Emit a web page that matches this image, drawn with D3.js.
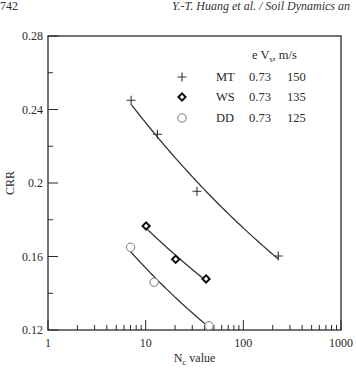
<!DOCTYPE html>
<html><head><meta charset="utf-8">
<script src="https://cdn.jsdelivr.net/npm/d3@7"></script>
<style>
html,body{margin:0;padding:0;background:#fff;}
svg{display:block;font-family:"Liberation Serif","Times New Roman",serif;}
</style></head>
<body><svg id="c" width="356" height="368"></svg>
<script>
// Data
const seriesNames = ["MT", "WS", "DD"];
const eValues = ["0.73", "0.73", "0.73"];
const vsValues = ["150", "135", "125"];
const mtN = [7.1, 13.2, 33.5, 228];
const mtCRR = [0.245, 0.2265, 0.1955, 0.1603];
const wsN = [10.1, 20.3, 41.5];
const wsCRR = [0.1766, 0.1585, 0.1478];
const ddN = [7.0, 12.2, 44.5];
const ddCRR = [0.165, 0.146, 0.1223];
const xTickLabels = ["1", "10", "100", "1000"];
const yTickLabels = ["0.12", "0.16", "0.2", "0.24", "0.28"];

const svg = d3.select("#c");
const L = 48, R = 341, T = 36, B = 330;
const x = d3.scaleLog().domain([1, 1000]).range([L, R]);
const y = d3.scaleLinear().domain([0.12, 0.28]).range([B, T]);
const ink = "#2a2a2a";

// page header
svg.append("text").attr("x", 0).attr("y", 10).attr("font-size", 12).attr("fill", "#333").text("742");
svg.append("text").attr("x", 172).attr("y", 10).attr("font-size", 12).attr("font-style", "italic").attr("fill", "#333")
  .text("Y.-T. Huang et al. / Soil Dynamics an");

// frame
svg.append("rect").attr("x", L).attr("y", T).attr("width", R - L).attr("height", B - T)
  .attr("fill", "none").attr("stroke", ink).attr("stroke-width", 1.3);

// x ticks (inward)
const xMajor = [1, 10, 100, 1000];
const xMinor = [];
[1, 10, 100].forEach(d => { for (let k = 2; k <= 9; k++) xMinor.push(d * k); });
const gx = svg.append("g");
gx.selectAll("line.mn").data(xMinor).enter().append("line")
  .attr("x1", d => x(d)).attr("x2", d => x(d)).attr("y1", B).attr("y2", B - 5)
  .attr("stroke", ink).attr("stroke-width", 1);
gx.selectAll("line.mj").data(xMajor).enter().append("line")
  .attr("x1", d => x(d)).attr("x2", d => x(d)).attr("y1", B).attr("y2", B - 10)
  .attr("stroke", ink).attr("stroke-width", 1);
gx.selectAll("text").data(xMajor).enter().append("text")
  .attr("x", d => x(d)).attr("y", B + 17).attr("text-anchor", "middle")
  .attr("font-size", 12).attr("fill", ink).text((d, i) => xTickLabels[i]);

// y ticks
const yMajor = [0.12, 0.16, 0.2, 0.24, 0.28];
const yMinor = [0.14, 0.18, 0.22, 0.26];
const gy = svg.append("g");
gy.selectAll("line.mn").data(yMinor).enter().append("line")
  .attr("x1", L).attr("x2", L + 5).attr("y1", d => y(d)).attr("y2", d => y(d))
  .attr("stroke", ink).attr("stroke-width", 1);
gy.selectAll("line.mj").data(yMajor).enter().append("line")
  .attr("x1", L).attr("x2", L + 10).attr("y1", d => y(d)).attr("y2", d => y(d))
  .attr("stroke", ink).attr("stroke-width", 1);
gy.selectAll("text").data(yMajor).enter().append("text")
  .attr("x", L - 5).attr("y", d => y(d) + 4).attr("text-anchor", "end")
  .attr("font-size", 12).attr("fill", ink).text((d, i) => yTickLabels[i]);

// axis titles
svg.append("text").attr("transform", `translate(14,${(T + B) / 2}) rotate(-90)`)
  .attr("text-anchor", "middle").attr("font-size", 12).attr("fill", ink).text("CRR");
const xt = svg.append("text").attr("x", (L + R) / 2).attr("y", 362).attr("text-anchor", "middle")
  .attr("font-size", 12).attr("fill", ink);
xt.append("tspan").text("N");
xt.append("tspan").attr("font-size", 9).attr("dy", 3).text("c");
xt.append("tspan").attr("dy", -3).text(" value");

// power-law fit through each series (regression in log-log space)
function powerFit(xs, ys) {
  const lx = xs.map(Math.log), ly = ys.map(Math.log);
  const mx = d3.mean(lx), my = d3.mean(ly);
  const b = d3.sum(lx.map((v, i) => (v - mx) * (ly[i] - my))) / d3.sum(lx.map(v => (v - mx) ** 2));
  const a = Math.exp(my - b * mx);
  const [x0, x1] = d3.extent(xs);
  return d3.range(0, 61).map(i => { const xv = x0 * Math.pow(x1 / x0, i / 60); return [xv, a * Math.pow(xv, b)]; });
}
const line = d3.line().x(d => x(d[0])).y(d => y(d[1]));
[[mtN, mtCRR], [wsN, wsCRR], [ddN, ddCRR]].forEach(([xs, ys]) => {
  svg.append("path").attr("d", line(powerFit(xs, ys))).attr("fill", "none")
    .attr("stroke", "#333").attr("stroke-width", 1.3);
});

// markers
function plus(g, cx, cy) {
  g.append("path").attr("d", `M${cx - 4.5},${cy}H${cx + 4.5}M${cx},${cy - 4.5}V${cy + 4.5}`)
    .attr("stroke", "#333").attr("stroke-width", 1.1).attr("fill", "none");
}
function diamond(g, cx, cy) {
  g.append("path").attr("d", `M${cx},${cy - 3.6}L${cx + 3.6},${cy}L${cx},${cy + 3.6}L${cx - 3.6},${cy}Z`)
    .attr("stroke", "#111").attr("stroke-width", 2).attr("fill", "#fff");
}
function circ(g, cx, cy) {
  g.append("circle").attr("cx", cx).attr("cy", cy).attr("r", 4.2)
    .attr("stroke", "#777").attr("stroke-width", 1).attr("fill", "#fff");
}
const gm = svg.append("g");
mtN.forEach((d, i) => plus(gm, x(d), y(mtCRR[i])));
wsN.forEach((d, i) => diamond(gm, x(d), y(wsCRR[i])));
ddN.forEach((d, i) => circ(gm, x(d), y(ddCRR[i])));

// legend
const lg = svg.append("g").attr("font-size", 12.5).attr("fill", ink);
const hd = lg.append("text").attr("x", 252).attr("y", 59);
hd.append("tspan").text("e  V");
hd.append("tspan").attr("font-size", 8).attr("dy", 3).text("s");
hd.append("tspan").attr("dy", -3).text(", m/s");
const rowsY = [81, 101, 122];
const markFns = [plus, diamond, circ];
seriesNames.forEach((s, i) => {
  markFns[i](lg, 182, rowsY[i] - 4);
  lg.append("text").attr("x", 216).attr("y", rowsY[i]).text(s);
  lg.append("text").attr("x", 249).attr("y", rowsY[i]).text(eValues[i]);
  lg.append("text").attr("x", 287).attr("y", rowsY[i]).text(vsValues[i]);
});
</script></body></html>
